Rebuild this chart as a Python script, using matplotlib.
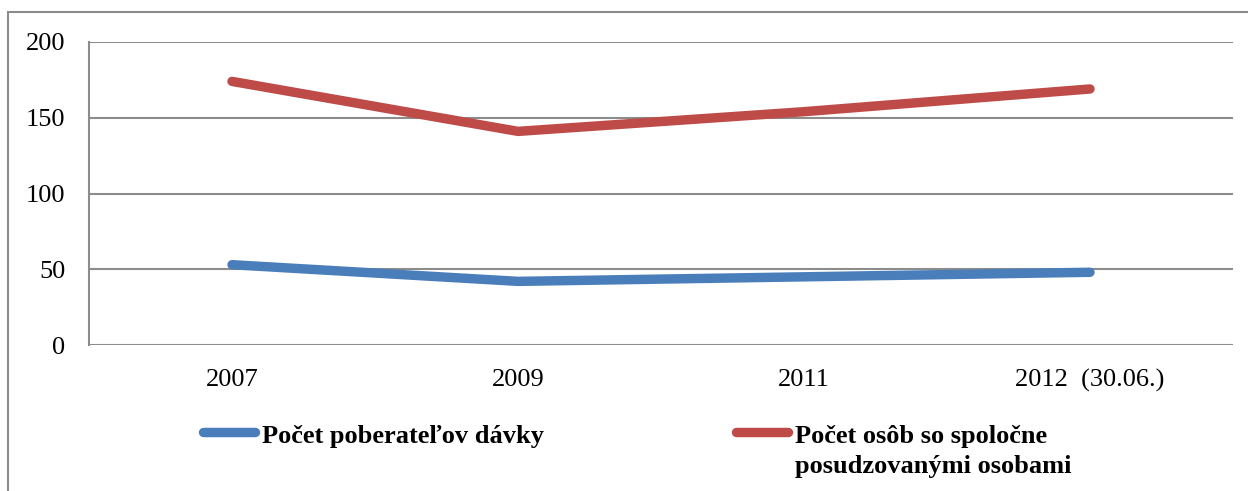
import matplotlib
matplotlib.use("Agg")
import matplotlib.pyplot as plt
from matplotlib.lines import Line2D
from matplotlib.patches import Rectangle

categories = ["2007", "2009", "2011", "2012  (30.06.)"]
recipients = [53, 42, 45, 48]
persons = [174, 141, 154, 169]
series_labels = ["Počet poberateľov dávky", "Počet osôb so spoločne\nposudzovanými osobami"]
colors = ["#4A7EBB", "#BE4B48"]
yticks = [0, 50, 100, 150, 200]

W, H = 1248, 491
fig = plt.figure(figsize=(W / 100, H / 100), dpi=100)
plt.rcParams['font.family'] = ['Liberation Serif', 'DejaVu Serif']

def fx(px):
    return px / W

def fy(py):
    return 1 - py / H

ax = fig.add_axes([fx(89), fy(345), fx(1233) - fx(89), fy(42) - fy(345)])
x = list(range(len(categories)))
ax.plot(x, recipients, color=colors[0], lw=6.8, solid_capstyle='round', solid_joinstyle='round', zorder=3)
ax.plot(x, persons, color=colors[1], lw=6.8, solid_capstyle='round', solid_joinstyle='round', zorder=3)
ax.set_xlim(-0.5, len(categories) - 0.5)
ax.set_ylim(0, 200)
ax.set_yticks(yticks)
ax.set_yticklabels([str(v) for v in yticks], fontsize=19)
ax.set_xticks(x)
ax.set_xticklabels(categories, fontsize=19)
ax.tick_params(axis='both', length=0)
ax.tick_params(axis='y', pad=17)
ax.tick_params(axis='x', pad=17)
for v in yticks:
    ax.axhline(v, color='#8C8C8C', lw=1.5, zorder=1)
for s in ['top', 'right', 'bottom']:
    ax.spines[s].set_visible(False)
ax.spines['left'].set_color('#8C8C8C')
ax.spines['left'].set_linewidth(1.5)

# outer chart border
fig.add_artist(Rectangle((fx(8), fy(500)), fx(1300) - fx(8), fy(12) - fy(500),
                         transform=fig.transFigure, fill=False, edgecolor='#8C8C8C', lw=1.5))

# legend
leg = [(199, 259, 262), (732, 792, 795)]
for (x0, x1, xt), lab, c in zip(leg, series_labels, colors):
    fig.add_artist(Line2D([fx(x0 + 4), fx(x1 - 4)], [fy(432), fy(432)], transform=fig.transFigure,
                          color=c, lw=6.8, solid_capstyle='round'))
    for i, line in enumerate(lab.split("\n")):
        fig.text(fx(xt), fy(443 + 30 * i), line, fontsize=19, fontweight='bold',
                 va='baseline', ha='left')

fig.savefig("out.png", dpi=100)
